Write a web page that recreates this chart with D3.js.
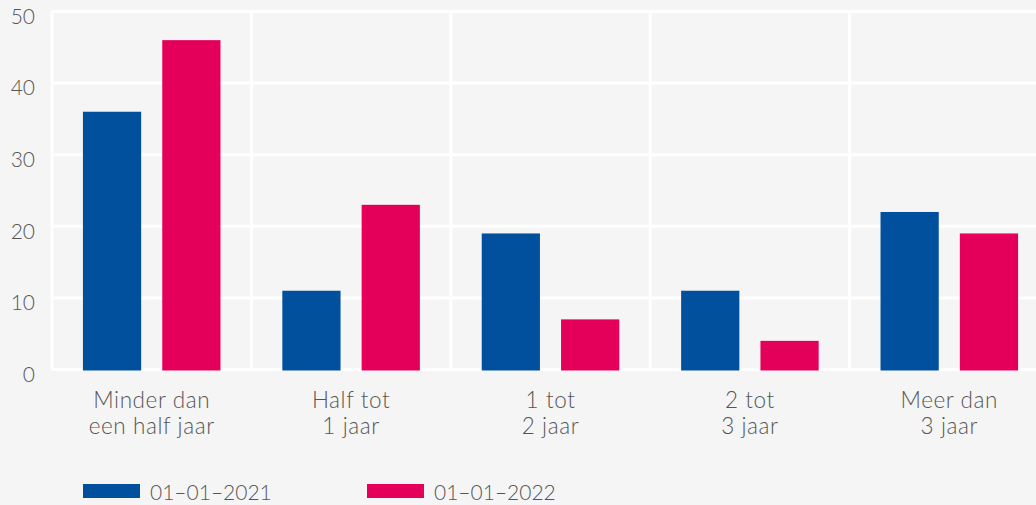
<!DOCTYPE html>
<html>
<head>
<meta charset="utf-8">
<script src="https://cdn.jsdelivr.net/npm/d3@7"></script>
<style>
  html, body { margin: 0; padding: 0; background: #f5f5f5; }
  svg { display: block; font-family: Lato, "Open Sans", sans-serif; font-weight: 300; }
</style>
</head>
<body>
<svg id="chart" width="1036" height="505"></svg>
<script>
// Duur categorieën en aantallen per peildatum
const categories = [
  ["Minder dan", "een half jaar"],
  ["Half tot", "1 jaar"],
  ["1 tot", "2 jaar"],
  ["2 tot", "3 jaar"],
  ["Meer dan", "3 jaar"]
];
const seriesNames = ["01–01–2021", "01–01–2022"];
const values2021 = [36, 11, 19, 11, 22];
const values2022 = [46, 23, 7, 4, 19];
const yTicks = [0, 10, 20, 30, 40, 50];
const colors = ["#00509e", "#e4005a"];

const svg = d3.select("#chart");
const W = 1036, H = 505;
const plotLeft = 52, plotRight = 1049, plotTop = 11.5, plotBottom = 369.5;

const keys = categories.map(c => c.join(" "));
const series = [values2021, values2022];

const x = d3.scaleBand().domain(keys).range([plotLeft, plotRight]).padding(0);
const xi = d3.scaleBand().domain(seriesNames).range([0, x.bandwidth()])
  .paddingInner(0.266).paddingOuter(0.39);
const y = d3.scaleLinear().domain([0, 50]).range([plotBottom, plotTop]);

// Raster: witte lijnen op lichtgrijs
const grid = svg.append("g").attr("stroke", "#ffffff").attr("stroke-width", 3);
grid.selectAll("line.h").data(yTicks).join("line")
  .attr("class", "h")
  .attr("x1", plotLeft).attr("x2", W + 20)
  .attr("y1", d => y(d)).attr("y2", d => y(d));
grid.selectAll("line.v").data(keys).join("line")
  .attr("class", "v")
  .attr("x1", d => x(d)).attr("x2", d => x(d))
  .attr("y1", plotTop).attr("y2", plotBottom);

// Staven
const groups = svg.append("g").selectAll("g").data(keys).join("g")
  .attr("transform", d => `translate(${x(d)},0)`);
groups.selectAll("rect")
  .data((d, i) => seriesNames.map((s, j) => ({ s, j, v: series[j][i] })))
  .join("rect")
  .attr("x", d => xi(d.s))
  .attr("width", xi.bandwidth())
  .attr("y", d => y(d.v))
  .attr("height", d => y(0) - y(d.v) + 1)
  .attr("fill", d => colors[d.j]);

// Y-as labels
const yAxis = d3.axisLeft(y).tickValues(yTicks).tickSize(0).tickPadding(0);
const ya = svg.append("g").attr("transform", "translate(35,5)").call(yAxis);
ya.select(".domain").remove();
ya.selectAll("text").attr("font-size", 21).attr("fill", "#555")
  .attr("font-family", "Lato, sans-serif").attr("font-weight", 300);

// X-as labels (twee regels)
const xa = svg.append("g").selectAll("text").data(categories).join("text")
  .attr("x", (d, i) => x(keys[i]) + x.bandwidth() / 2)
  .attr("y", 408)
  .attr("text-anchor", "middle")
  .attr("font-size", 22.5)
  .attr("letter-spacing", 0.6)
  .attr("fill", "#555");
xa.selectAll("tspan").data(d => d).join("tspan")
  .attr("x", function () { return this.parentNode.getAttribute("x"); })
  .attr("dy", (d, i) => i === 0 ? 0 : 26)
  .text(d => d);

// Legenda
const legendX = [83, 367];
const lg = svg.append("g").selectAll("g").data(seriesNames).join("g")
  .attr("transform", (d, i) => `translate(${legendX[i]},484)`);
lg.append("rect").attr("width", 57).attr("height", 14)
  .attr("fill", (d, i) => colors[i]);
lg.append("text").attr("x", 67).attr("y", 16)
  .attr("font-size", 21).attr("fill", "#555").text(d => d);
</script>
</body>
</html>
